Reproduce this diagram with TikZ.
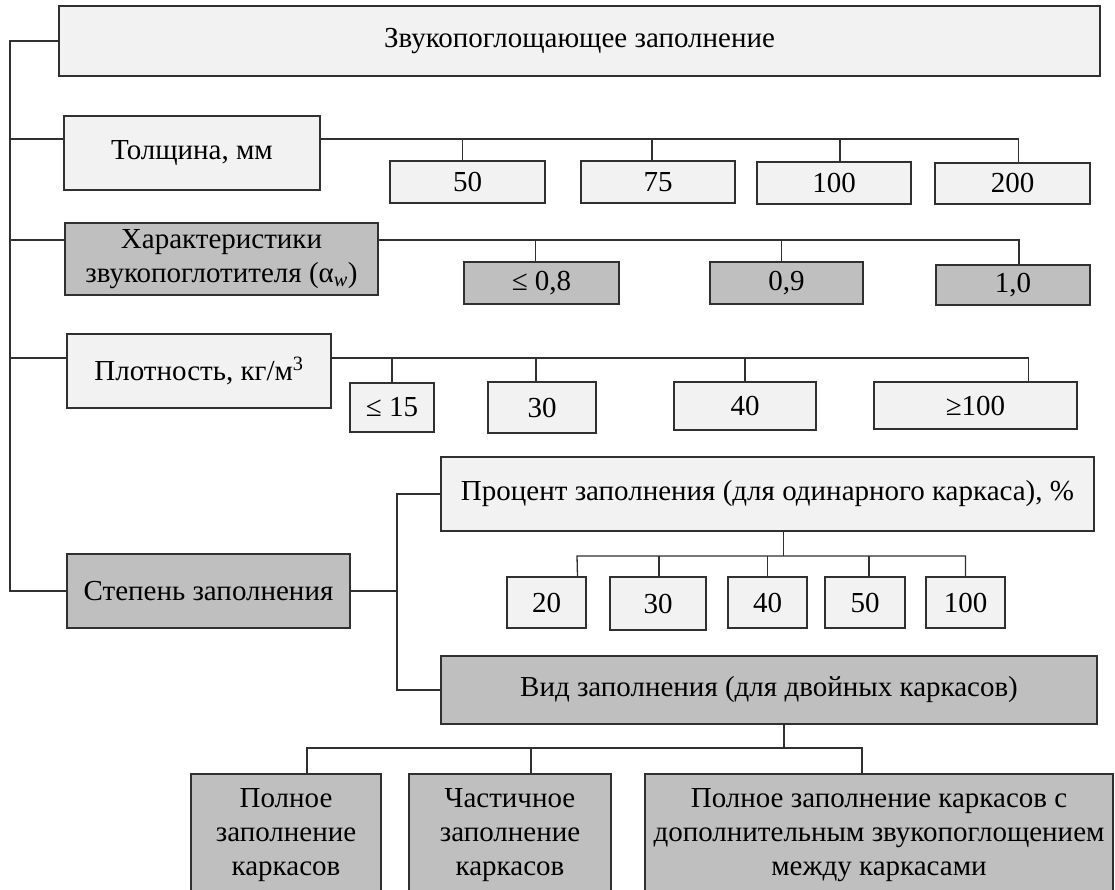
\documentclass[tikz,border=0pt]{standalone}
\usepackage{fontspec}
\setmainfont{Liberation Serif}

\definecolor{lightfill}{HTML}{F2F2F2}
\definecolor{darkfill}{HTML}{BFBFBF}
\definecolor{linegray}{HTML}{303030}

\begin{document}
\begin{tikzpicture}[x=1pt,y=-1pt,
	box/.style={draw=linegray,line width=1.3pt,inner sep=0pt,align=center,font=\fontsize{29}{34}\selectfont},
	lbox/.style={box,fill=lightfill},
	dbox/.style={box,fill=darkfill},
	link/.style={draw=linegray,line width=1.3pt}]
	\useasboundingbox (0,0) rectangle (1115,890);
	\clip (0,0) rectangle (1115,890);
	
	\node[lbox,minimum width=1041pt,minimum height=70pt] (top) at (579.5,41) {Звукопоглощающее заполнение};
	
	\node[lbox,minimum width=256pt,minimum height=74pt] (tol) at (192,153) {Толщина, мм};
	\node[lbox,minimum width=155pt,minimum height=42pt] (t50) at (467.5,182) {50};
	\node[lbox,minimum width=154pt,minimum height=42pt] (t75) at (658,182) {75};
	\node[lbox,minimum width=154pt,minimum height=42pt] (t100) at (834,183) {100};
	\node[lbox,minimum width=155pt,minimum height=41pt] (t200) at (1012.5,183.5) {200};
	
	\node[dbox,minimum width=313pt,minimum height=72pt] (har) at (221.5,259) {Характеристики\\звукопоглотителя (α\textsubscript{\textit{w}})};
	\node[dbox,minimum width=155pt,minimum height=42pt] (h08) at (541.5,283) {≤ 0,8};
	\node[dbox,minimum width=153pt,minimum height=42pt] (h09) at (786.5,283) {0,9};
	\node[dbox,minimum width=154pt,minimum height=40pt] (h10) at (1013,285) {1,0};
	
	\node[lbox,minimum width=264pt,minimum height=74pt] (plo) at (199,371) {Плотность, кг/м\textsuperscript{3}};
	\node[lbox,minimum width=84pt,minimum height=49pt] (p15) at (392,407.5) {≤ 15};
	\node[lbox,minimum width=108pt,minimum height=51pt] (p30) at (542,407.5) {30};
	\node[lbox,minimum width=142pt,minimum height=48pt] (p40) at (745,406) {40};
	\node[lbox,minimum width=203pt,minimum height=47pt] (p100) at (975.5,405.5) {≥100};
	
	\node[dbox,minimum width=283pt,minimum height=74pt] (stepen) at (208.5,591) {Степень заполнения};
	\node[lbox,minimum width=653pt,minimum height=74pt] (proc) at (767.5,494) {Процент заполнения (для одинарного каркаса), \%};
	\node[lbox,minimum width=79pt,minimum height=51pt] (q20) at (546.5,602.5) {20};
	\node[lbox,minimum width=96pt,minimum height=53pt] (q30) at (658,603.5) {30};
	\node[lbox,minimum width=79pt,minimum height=51pt] (q40) at (767.5,602.5) {40};
	\node[lbox,minimum width=80pt,minimum height=51pt] (q50) at (865,602.5) {50};
	\node[lbox,minimum width=79pt,minimum height=51pt] (q100) at (965.5,602.5) {100};
	\node[dbox,minimum width=656pt,minimum height=68pt] (vid) at (769,690) {Вид заполнения (для двойных каркасов)};
	
	\node[dbox,minimum width=190pt,minimum height=122pt] (full) at (286,835) {Полное\\заполнение\\каркасов};
	\node[dbox,minimum width=202pt,minimum height=122pt] (part) at (510,835) {Частичное\\заполнение\\каркасов};
	\node[dbox,minimum width=468pt,minimum height=122pt] (fullplus) at (879,835) {Полное заполнение каркасов с\\дополнительным звукопоглощением\\между каркасами};
	
	\coordinate (tolbus) at (10,139);
	\coordinate (harbus) at (10,240);
	\coordinate (plobus) at (10,358);
	\coordinate (brk) at (397,591);
	\coordinate (procbus) at (577,556);
	\coordinate (vidbus) at (307,748);
	
	\draw[link] (top.west) -| (stepen.west -| tolbus) -- (stepen.west);
	\draw[link] (tolbus) -- (tolbus -| tol.west);
	\draw[link] (harbus) -- (harbus -| har.west);
	\draw[link] (plobus) -- (plobus -| plo.west);
	
	\draw[link] (tolbus -| tol.east) -| ([xshift=6]t200.north);
	\foreach \n/\d in {t50/-5,t75/-6,t100/6}
		\draw[link] ([xshift=\d]\n.north) -- ([xshift=\d]\n.north |- tolbus);
	
	\draw[link] (harbus -| har.east) -| ([xshift=6]h10.north);
	\foreach \n/\d in {h08/-6,h09/-5}
		\draw[link] ([xshift=\d]\n.north) -- ([xshift=\d]\n.north |- harbus);
	
	\draw[link] (plobus -| plo.east) -| ([xshift=53]p100.north);
	\foreach \n/\d in {p15/0,p30/-6,p40/0}
		\draw[link] ([xshift=\d]\n.north) -- ([xshift=\d]\n.north |- plobus);
	
	\draw[link] (stepen.east) -- (brk);
	\draw[link] (proc.west) -| (brk) |- (vid.west);
	
	\draw[link] ([xshift=16]proc.south) -- ([xshift=16]proc.south |- procbus);
	\draw[link] ([xshift=31]q20.north) -- (procbus) -| (q100.north);
	\foreach \n/\d in {q30/1,q40/0,q50/4}
		\draw[link] ([xshift=\d]\n.north) -- ([xshift=\d]\n.north |- procbus);
	
	\draw[link] ([xshift=15]vid.south) -- ([xshift=15]vid.south |- vidbus);
	\draw[link] ([xshift=21]full.north) -- (vidbus) -| ([xshift=-17]fullplus.north);
	\draw[link] ([xshift=21]part.north) -- ([xshift=21]part.north |- vidbus);
\end{tikzpicture}
\end{document}
